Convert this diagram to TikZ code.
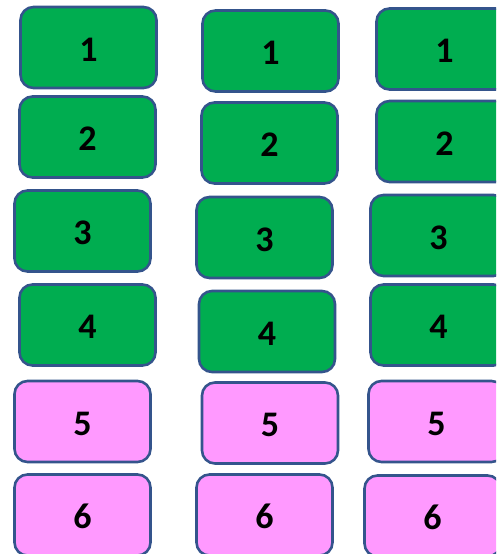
\documentclass[tikz,border=0pt]{standalone}
\usepackage{fontspec}
\setmainfont{Carlito}
\usepackage{tikz}
\usepackage{xcolor}
\definecolor{boxgreen}{RGB}{0,173,80}
\definecolor{boxpink}{RGB}{255,153,255}
\definecolor{boxline}{RGB}{52,84,140}

\begin{document}
\begin{tikzpicture}[x=1pt, y=-1pt,
  every node/.style={font=\fontsize{36}{40}\selectfont\bfseries},
  cell/.style={draw=boxline, line width=2.6pt, rounded corners=13pt,
               minimum width=136pt, minimum height=81pt, inner sep=0pt,
               text height=27pt, text depth=0pt},
  gcell/.style={cell, fill=boxgreen},
  pcell/.style={cell, fill=boxpink}]
\useasboundingbox (0,0) rectangle (496,554);
\clip (0,0) rectangle (496,554);
% column a
\foreach \n/\cx/\cy/\s in {1/88.5/47.5/gcell, 2/87.5/137/gcell, 3/82.5/231/gcell,
                         4/87.5/325/gcell, 5/82.5/421.5/pcell, 6/82.5/515/pcell}
  \node[\s] (a\n) at (\cx,\cy) {\n};
% column b
\foreach \n/\cx/\cy/\s in {1/270.5/51/gcell, 2/269.5/143/gcell, 3/264.5/237.5/gcell,
                         4/267/331.5/gcell, 5/270/423/pcell, 6/264.5/515/pcell}
  \node[\s] (b\n) at (\cx,\cy) {\n};
% column c
\foreach \n/\cx/\cy/\s in {1/444.5/49/gcell, 2/444.5/141.5/gcell, 3/438.5/235.5/gcell,
                         4/438.5/325/gcell, 5/436.5/421.5/pcell, 6/432.5/516/pcell}
  \node[\s] (c\n) at (\cx,\cy) {\n};
\end{tikzpicture}
\end{document}
